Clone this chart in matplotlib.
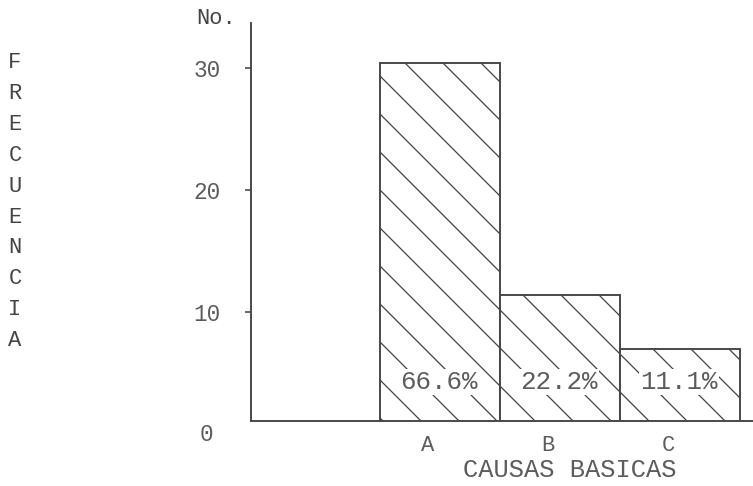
import matplotlib
matplotlib.use("Agg")
import matplotlib.pyplot as plt
from matplotlib.transforms import ScaledTranslation

# ---- data ----
categories = ["A", "B", "C"]
frecuencia = [30.4, 11.4, 7.0]
porcentajes = ["66.6%", "22.2%", "11.1%"]
yticks = [10, 20, 30]
ylabel_letters = "FRECUENCIA"
xlabel = "CAUSAS BASICAS"
ylabel_top = "No."

# ---- style ----
DPI = 228
W, H = 753, 486
INK = "#444444"
TXT = "#5c5c5c"
FONT = ["Liberation Mono", "DejaVu Sans Mono"]

plt.rcParams["font.family"] = FONT
plt.rcParams["hatch.linewidth"] = 0.4
plt.rcParams["hatch.color"] = INK

fig = plt.figure(figsize=(W / DPI, H / DPI), dpi=DPI, facecolor="white")
ax = fig.add_axes([251 / W, (H - 421) / H, (W - 251) / W, (421 - 23) / H])

x = list(range(len(categories)))
ax.bar(x, frecuencia, width=1.0, bottom=0, facecolor="white",
       edgecolor=INK, linewidth=0.6, hatch="\\\\", zorder=2)

ax.set_xlim(-1.575, 2.608)
ax.set_ylim(1.066, 33.7)

for s in ["top", "right"]:
    ax.spines[s].set_visible(False)
for s in ["left", "bottom"]:
    ax.spines[s].set_color(INK)
    ax.spines[s].set_linewidth(0.6)

ax.set_yticks(yticks)
ax.set_yticklabels([str(v) for v in yticks], fontsize=7.2, color=TXT)
ax.tick_params(axis="y", direction="out", length=2.0, width=0.5,
               color=INK, pad=7.5)

ax.set_xticks(x)
ax.set_xticklabels(categories, fontsize=7, color=TXT)
ax.tick_params(axis="x", length=0, pad=4.5)
shift = ScaledTranslation(-12 / DPI, 0, fig.dpi_scale_trans)
for lab in ax.get_xticklabels():
    lab.set_transform(lab.get_transform() + shift)

# "0" label sits just under the drawn baseline
ax.annotate("0", xy=(0, 0), xycoords=("axes fraction", "data"),
            xytext=(-(2.0 + 7.5 + 2.5), 0), textcoords="offset points",
            ha="right", va="center", fontsize=7.2, color=TXT,
            annotation_clip=False)

# percentage labels inside bars
for xi, p in zip(x, porcentajes):
    ax.text(xi - 0.01, 4.3, p, ha="center", va="center", fontsize=8.2,
            color=TXT, zorder=3,
            bbox=dict(facecolor="white", edgecolor="none", pad=0.3))

# axis titles
fig.text(236 / W, 1 - 18 / H, ylabel_top, ha="right", va="center",
         fontsize=7, color=INK)
fig.text(570 / W, 1 - 470 / H, xlabel, ha="center", va="center",
         fontsize=8, color=TXT)
for i, ch in enumerate(ylabel_letters):
    fig.text(15 / W, 1 - (63 + 30.8 * i) / H, ch, ha="center", va="center",
             fontsize=7, color=INK)

fig.savefig("out.png", dpi=DPI, facecolor="white")
